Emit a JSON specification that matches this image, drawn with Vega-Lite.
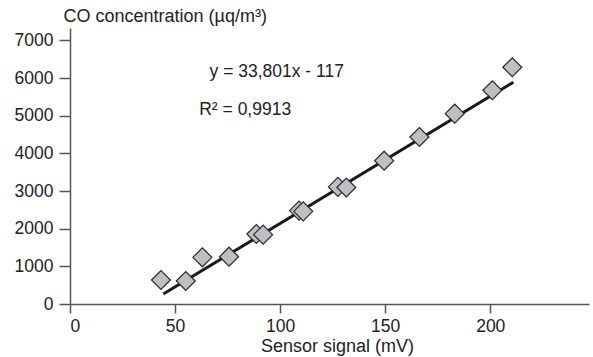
{
  "$schema": "https://vega.github.io/schema/vega-lite/v6.json",
  "width": 519,
  "height": 276,
  "autosize": "none",
  "padding": {"left": 70, "top": 28, "right": 4, "bottom": 53},
  "background": "white",
  "config": {
    "view": {"stroke": null},
    "font": "Liberation Sans",
    "axis": {
      "grid": false,
      "domainColor": "#555555",
      "tickColor": "#555555",
      "domainWidth": 1.5,
      "tickWidth": 1.5,
      "labelFont": "Liberation Sans",
      "labelFontSize": 17.5,
      "labelColor": "#222222",
      "titleFont": "Liberation Sans",
      "titleFontSize": 18,
      "titleFontWeight": "normal",
      "titleColor": "#222222"
    }
  },
  "datasets": {
    "points": [
      {"signal": 43.3, "co": 637},
      {"signal": 55.1, "co": 611},
      {"signal": 63.0, "co": 1240},
      {"signal": 75.7, "co": 1256},
      {"signal": 88.7, "co": 1859},
      {"signal": 91.9, "co": 1841},
      {"signal": 109.0, "co": 2480},
      {"signal": 111.0, "co": 2460},
      {"signal": 127.5, "co": 3110},
      {"signal": 131.5, "co": 3095},
      {"signal": 149.5, "co": 3806},
      {"signal": 166.3, "co": 4435},
      {"signal": 183.1, "co": 5054},
      {"signal": 201.0, "co": 5676},
      {"signal": 210.5, "co": 6287}
    ],
    "trend": [
      {"signal": 44.4, "co": 266},
      {"signal": 211.0, "co": 5888}
    ],
    "labels": [
      {"signal": 66.4, "co": 6016, "text": "y = 33,801x - 117"},
      {"signal": 61.5, "co": 5028, "text": "R² = 0,9913"}
    ]
  },
  "encoding": {
    "x": {
      "field": "signal",
      "type": "quantitative",
      "scale": {"domain": [0, 247], "nice": false, "zero": false},
      "axis": {
        "values": [0, 50, 100, 150, 200],
        "tickSize": 9,
        "labelPadding": 4,
        "title": "Sensor signal (mV)",
        "titleAlign": "center",
        "titleBaseline": "alphabetic",
        "titleX": 267,
        "titleY": 47
      }
    },
    "y": {
      "field": "co",
      "type": "quantitative",
      "scale": {"domain": [0, 7330], "nice": false, "zero": false},
      "axis": {
        "values": [0, 1000, 2000, 3000, 4000, 5000, 6000, 7000],
        "format": "d",
        "tickSize": 11,
        "labelPadding": 6,
        "title": "CO concentration (µq/m³)",
        "titleAngle": 0,
        "titleAlign": "left",
        "titleBaseline": "alphabetic",
        "titleX": -7,
        "titleY": -6.5
      }
    }
  },
  "layer": [
    {
      "data": {"name": "trend"},
      "mark": {"type": "line", "color": "#1a1a1a", "strokeWidth": 3}
    },
    {
      "data": {"name": "points"},
      "mark": {"type": "point", "shape": "diamond", "size": 360, "filled": true, "fill": "#bebfc2", "stroke": "#2a2a2a", "strokeWidth": 1.2, "opacity": 1}
    },
    {
      "data": {"name": "labels"},
      "mark": {"type": "text", "align": "left", "baseline": "alphabetic", "fontSize": 17.5, "color": "#222222", "font": "Liberation Sans"},
      "encoding": {"text": {"field": "text"}}
    }
  ]
}
